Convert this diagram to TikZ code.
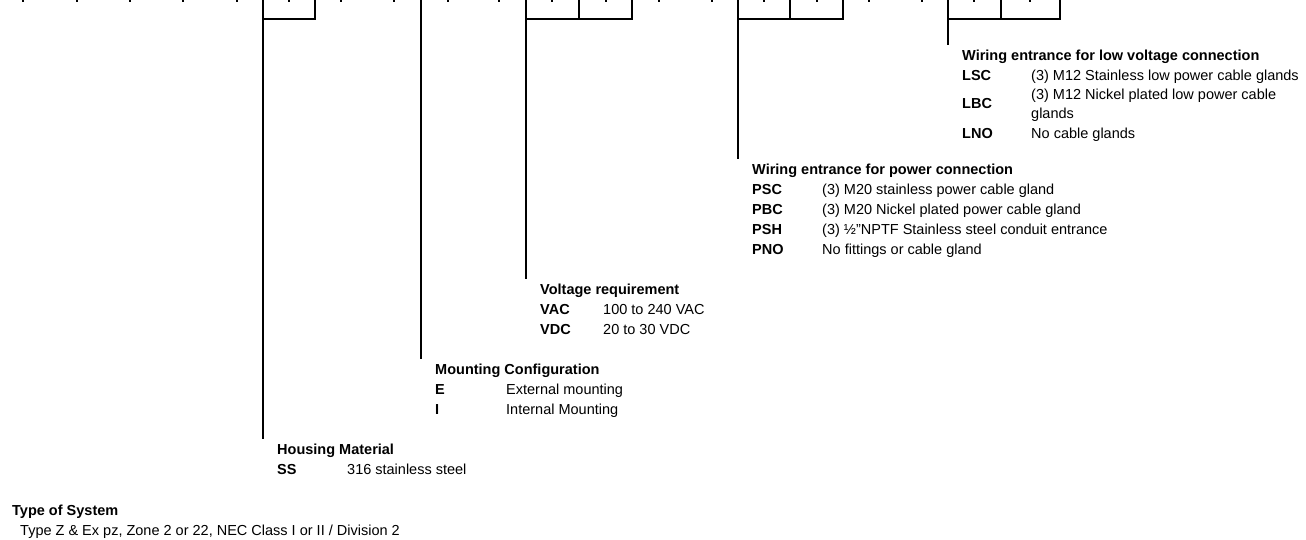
\documentclass[tikz,border=0pt]{standalone}
\usepackage{fontspec}
\setmainfont{Liberation Sans}
\begin{document}
\begin{tikzpicture}[x=1pt,y=-1pt,
  frame/.style={line width=2pt, line cap=butt, line join=miter},
  txt/.style={anchor=west, inner sep=0pt, font=\fontsize{14.5}{17}\selectfont, text height=10.5pt, text depth=3pt},
  head/.style={txt, font=\fontsize{14.5}{17}\selectfont\bfseries},
  codetxt/.style={head},
  twoline/.style={anchor=west, inner sep=0pt, align=left, font=\fontsize{14.5}{19}\selectfont},
  leader/.style={frame, shorten >=5pt}]
\useasboundingbox (0,0) rectangle (1306,540);

% ticks at the top (cell centres)
\foreach \t in {23,77,130,183,237,289,341,394,448,499,552,606,659,712,764,817,869,922,974,1030}
  \draw[frame] (\t,-1) -- (\t,2.5);

% boxes
\draw[frame] (315,-1) -- (315,19) -- (263,19);
\draw[frame] (632,-1) -- (632,19) -- (526,19);
\draw[frame] (579,-1) -- (579,19);
\draw[frame] (843,-1) -- (843,19) -- (738,19);
\draw[frame] (790,-1) -- (790,19);
\draw[frame] (1060,-1) -- (1060,19) -- (948,19);
\draw[frame] (1001,-1) -- (1001,19);

\coordinate (hmtop) at (263,-1);
\coordinate (mctop) at (421,-1);
\coordinate (vrtop) at (526,-1);
\coordinate (pwtop) at (738,-1);
\coordinate (lvtop) at (948,-1);

% Low voltage wiring
\node[head] (lvH) at (962,57) {Wiring entrance for low voltage connection};
\node[codetxt] (lv1) at (962,77) {LSC};
\node[txt] (lv1d) at (1031,77) {(3) M12 Stainless low power cable glands};
\node[codetxt] (lv2) at (962,105) {LBC};
\node[twoline] (lv2d) at (1031,105) {(3) M12 Nickel plated low power cable\\glands};
\node[codetxt] (lv3) at (962,135) {LNO};
\node[txt] (lv3d) at (1031,135) {No cable glands};

% Power wiring
\node[head] (pwH) at (752,170.5) {Wiring entrance for power connection};
\node[codetxt] (pw1) at (752,190.5) {PSC};
\node[txt] (pw1d) at (822,190.5) {(3) M20 stainless power cable gland};
\node[codetxt] (pw2) at (752,210.5) {PBC};
\node[txt] (pw2d) at (822,210.5) {(3) M20 Nickel plated power cable gland};
\node[codetxt] (pw3) at (752,230.5) {PSH};
\node[txt] (pw3d) at (822,230.5) {(3) ½"NPTF Stainless steel conduit entrance};
\node[codetxt] (pw4) at (752,250.5) {PNO};
\node[txt] (pw4d) at (822,250.5) {No fittings or cable gland};

% Voltage
\node[head] (vrH) at (540,290.5) {Voltage requirement};
\node[codetxt] (vr1) at (540,310.5) {VAC};
\node[txt] (vr1d) at (603,310.5) {100 to 240 VAC};
\node[codetxt] (vr2) at (540,330.5) {VDC};
\node[txt] (vr2d) at (603,330.5) {20 to 30 VDC};

% Mounting
\node[head] (mcH) at (435,371) {Mounting Configuration};
\node[codetxt] (mc1) at (435,391) {E};
\node[txt] (mc1d) at (506,391) {External mounting};
\node[codetxt] (mc2) at (435,411) {I};
\node[txt] (mc2d) at (506,411) {Internal Mounting};

% Housing
\node[head] (hmH) at (277,451) {Housing Material};
\node[codetxt] (hm1) at (277,471) {SS};
\node[txt] (hm1d) at (347,471) {316 stainless steel};

% Type of system
\node[head] (tsH) at (12,512) {Type of System};
\node[txt] (tsD) at (20,532) {Type Z \& Ex pz, Zone 2 or 22, NEC Class I or II / Division 2};

% leader lines
\draw[leader] (hmtop) -- (hmtop |- hmH.north);
\draw[leader] (mctop) -- (mctop |- mcH.north);
\draw[leader] (vrtop) -- (vrtop |- vrH.north);
\draw[leader] (pwtop) -- (pwtop |- pwH.north);
\draw[leader] (lvtop) -- (lvtop |- lvH.north);
\end{tikzpicture}
\end{document}
